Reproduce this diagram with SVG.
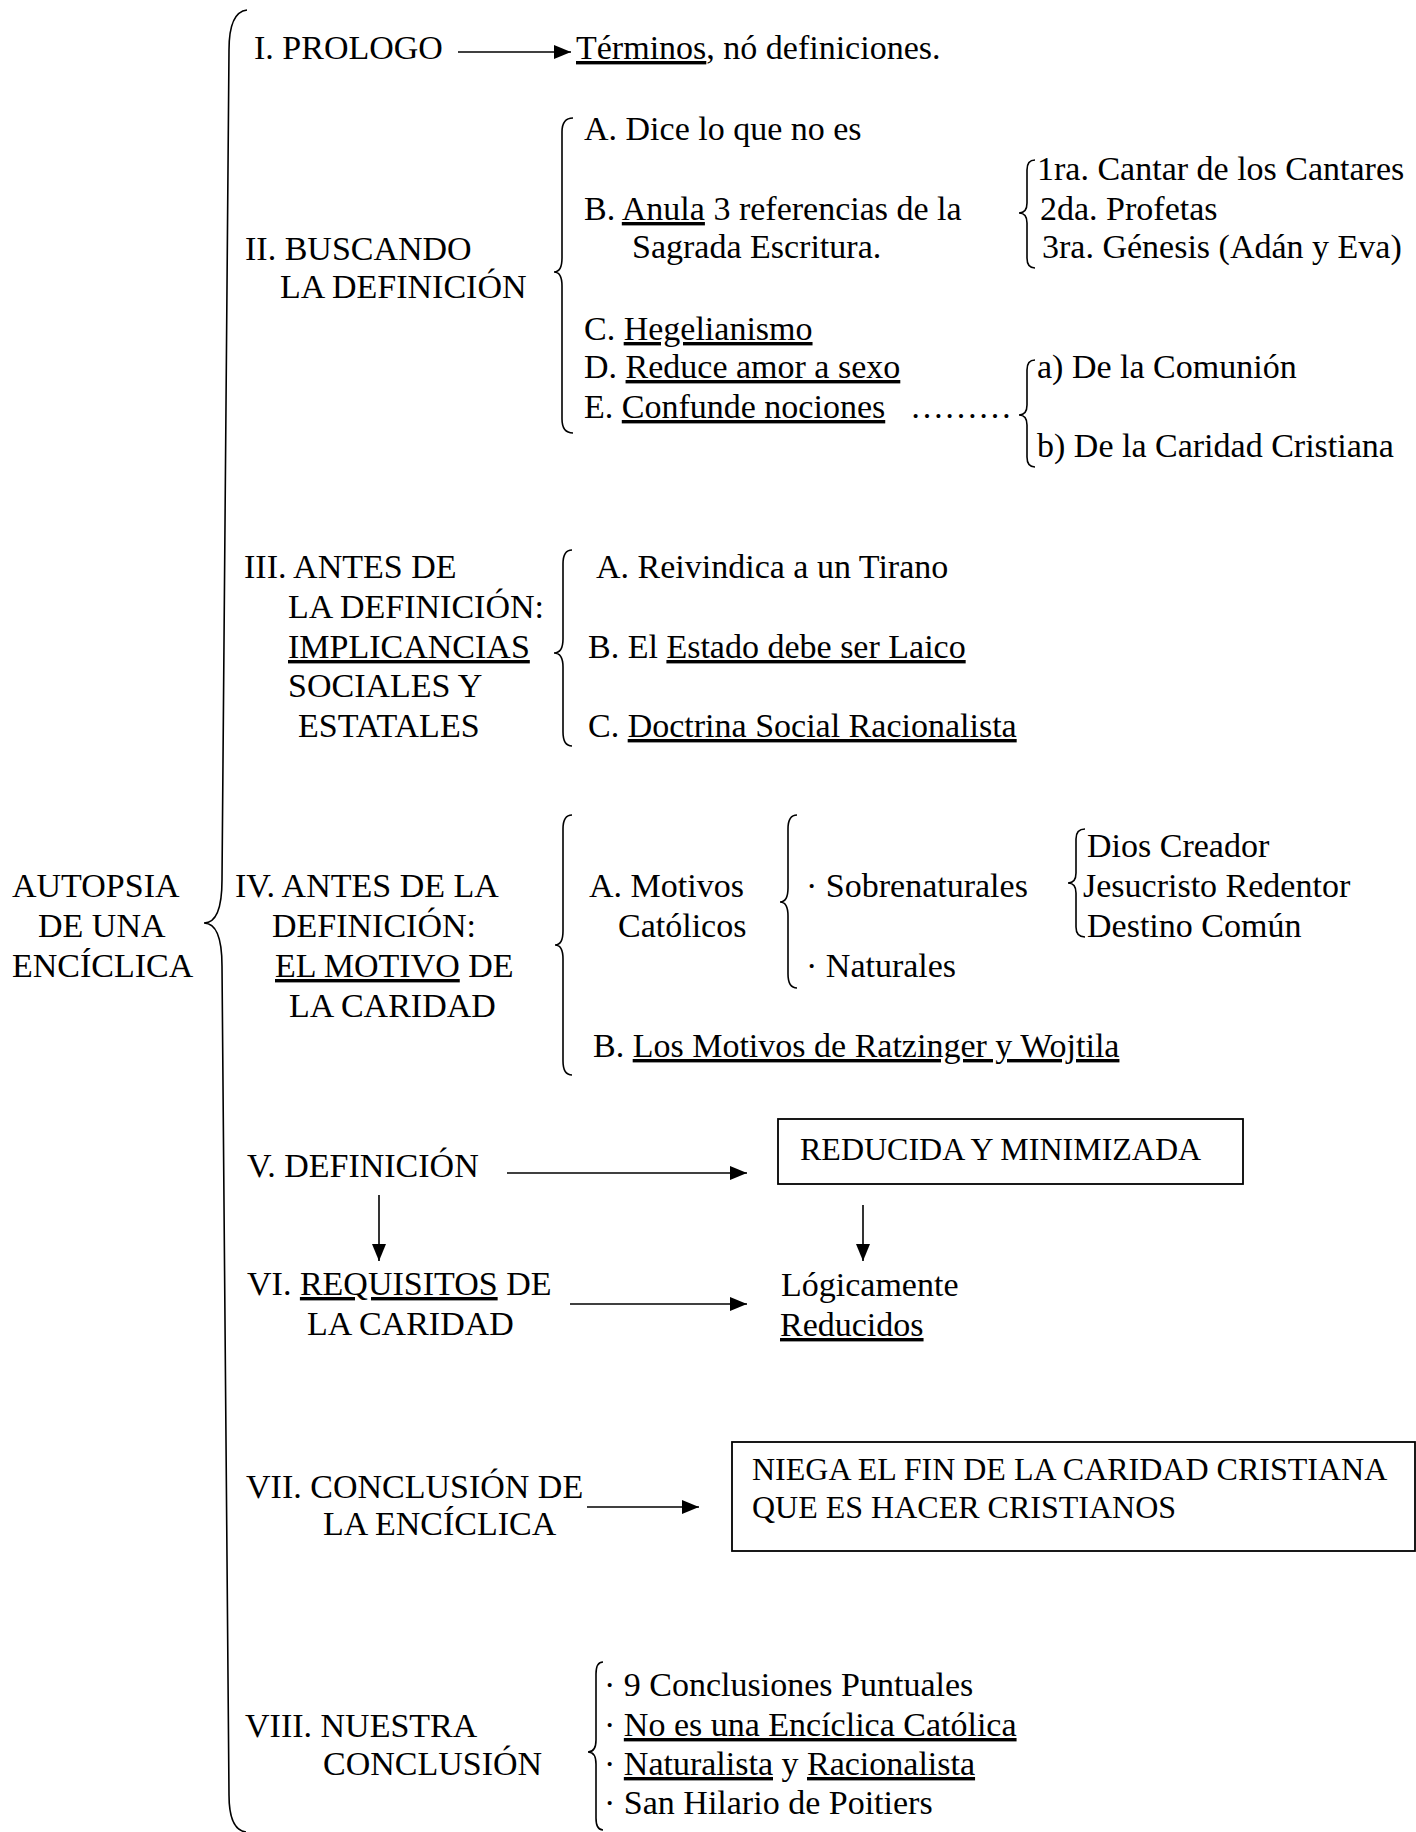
<svg xmlns="http://www.w3.org/2000/svg" width="1416" height="1832" viewBox="0 0 1416 1832">
<style>
text{font-family:"Liberation Serif","Times New Roman",serif;font-size:34px;fill:#000}
.s{font-size:32px}
.u{text-decoration:underline}
.br{fill:none;stroke:#000;stroke-width:1.6}
.ln{fill:none;stroke:#000;stroke-width:1.6}
.box{fill:#fff;stroke:#000;stroke-width:1.8}
</style>
<defs>
<marker id="ah" markerUnits="userSpaceOnUse" markerWidth="18" markerHeight="14" refX="17" refY="7" orient="auto">
<path d="M0,0 L17,7 L0,14 z" fill="#000"/>
</marker>
</defs>
<rect width="1416" height="1832" fill="#fff"/>
<g id="connectors">
<path class="br" d="M247,10 Q229,12 229,50 L222,880 Q222,923 204,923 Q222,923 222,966 L229,1795 Q229,1830 246,1832"/>
<path class="br" d="M573,118 Q562,118 562,132 L562,258 Q562,272 554,272 Q562,272 562,286 L562,419 Q562,433 573,433"/>
<path class="br" d="M1035,160 Q1027,160 1027,170 L1027,203 Q1027,213 1019,213 Q1027,213 1027,223 L1027,258 Q1027,268 1035,268"/>
<path class="br" d="M1035,360 Q1027,360 1027,370 L1027,405 Q1027,415 1019,415 Q1027,415 1027,425 L1027,457 Q1027,467 1035,467"/>
<path class="br" d="M572,550 Q563,550 563,564 L563,639 Q563,653 554,653 Q563,653 563,667 L563,732 Q563,746 572,746"/>
<path class="br" d="M572,815 Q563,815 563,829 L563,931 Q563,945 555,945 Q563,945 563,959 L563,1061 Q563,1075 572,1075"/>
<path class="br" d="M797,815 Q788,815 788,829 L788,888 Q788,902 780,902 Q788,902 788,916 L788,974 Q788,988 797,988"/>
<path class="br" d="M1085,829 Q1076,829 1076,839 L1076,873 Q1076,883 1068,883 Q1076,883 1076,893 L1076,927 Q1076,937 1085,937"/>
<path class="br" d="M603,1662 Q596,1662 596,1674 L596,1740 Q596,1752 588,1752 Q596,1752 596,1764 L596,1818 Q596,1830 603,1830"/>
<line class="ln" x1="458" y1="52" x2="571" y2="52" marker-end="url(#ah)"/>
<line class="ln" x1="507" y1="1173" x2="747" y2="1173" marker-end="url(#ah)"/>
<line class="ln" x1="379" y1="1195" x2="379" y2="1261" marker-end="url(#ah)"/>
<line class="ln" x1="863" y1="1205" x2="863" y2="1261" marker-end="url(#ah)"/>
<line class="ln" x1="570" y1="1304" x2="747" y2="1304" marker-end="url(#ah)"/>
<line class="ln" x1="587" y1="1507" x2="699" y2="1507" marker-end="url(#ah)"/>
</g>
<g id="root">
<text x="12" y="897">AUTOPSIA</text>
<text x="38" y="937">DE UNA</text>
<text x="12" y="977">ENCÍCLICA</text>
</g>
<g id="n1">
<text x="254" y="59">I. PROLOGO</text>
</g>
<g id="n1a">
<text x="576" y="59"><tspan class="u">Términos</tspan>, nó definiciones.</text>
</g>
<g id="n2">
<text x="245" y="260">II. BUSCANDO</text>
<text x="280" y="298">LA DEFINICIÓN</text>
</g>
<g id="n2items">
<text x="584" y="140">A. Dice lo que no es</text>
<text x="584" y="220">B. <tspan class="u">Anula</tspan> 3 referencias de la</text>
<text x="632" y="258">Sagrada Escritura.</text>
<text x="584" y="340">C. <tspan class="u">Hegelianismo</tspan></text>
<text x="584" y="378">D. <tspan class="u">Reduce amor a sexo</tspan></text>
<text x="584" y="418">E. <tspan class="u">Confunde nociones</tspan></text>
<text x="910" y="418">………</text>
</g>
<g id="n2refs">
<text x="1037" y="180">1ra. Cantar de los Cantares</text>
<text x="1040" y="220">2da. Profetas</text>
<text x="1042" y="258">3ra. Génesis (Adán y Eva)</text>
</g>
<g id="n2nociones">
<text x="1037" y="378">a) De la Comunión</text>
<text x="1037" y="457">b) De la Caridad Cristiana</text>
</g>
<g id="n3">
<text x="244" y="578">III. ANTES DE</text>
<text x="288" y="618">LA DEFINICIÓN:</text>
<text x="288" y="658"><tspan class="u">IMPLICANCIAS</tspan></text>
<text x="288" y="697">SOCIALES Y</text>
<text x="298" y="737">ESTATALES</text>
</g>
<g id="n3items">
<text x="596" y="578">A. Reivindica a un Tirano</text>
<text x="588" y="658">B. El <tspan class="u">Estado debe ser Laico</tspan></text>
<text x="588" y="737">C. <tspan class="u">Doctrina Social Racionalista</tspan></text>
</g>
<g id="n4">
<text x="235" y="897">IV. ANTES DE LA</text>
<text x="272" y="937">DEFINICIÓN:</text>
<text x="275" y="977"><tspan class="u">EL MOTIVO</tspan> DE</text>
<text x="289" y="1017">LA CARIDAD</text>
</g>
<g id="n4a">
<text x="589" y="897">A. Motivos</text>
<text x="618" y="937">Católicos</text>
</g>
<g id="n4motivos">
<text x="806" y="897">· Sobrenaturales</text>
<text x="806" y="977">· Naturales</text>
</g>
<g id="n4sobre">
<text x="1087" y="857">Dios Creador</text>
<text x="1083" y="897">Jesucristo Redentor</text>
<text x="1087" y="937">Destino Común</text>
</g>
<g id="n4b">
<text x="593" y="1057">B. <tspan class="u">Los Motivos de Ratzinger y Wojtila</tspan></text>
</g>
<g id="n5">
<text x="247" y="1177">V. DEFINICIÓN</text>
</g>
<g id="n5box">
<rect class="box" x="778" y="1119" width="465" height="65"/>
<text class="s" x="800" y="1160">REDUCIDA Y MINIMIZADA</text>
</g>
<g id="n6">
<text x="247" y="1295">VI. <tspan class="u">REQUISITOS</tspan> DE</text>
<text x="307" y="1335">LA CARIDAD</text>
</g>
<g id="n6res">
<text x="781" y="1296">Lógicamente</text>
<text x="780" y="1336"><tspan class="u">Reducidos</tspan></text>
</g>
<g id="n7">
<text x="246" y="1498">VII. CONCLUSIÓN DE</text>
<text x="323" y="1535">LA ENCÍCLICA</text>
</g>
<g id="n7box">
<rect class="box" x="732" y="1442" width="683" height="109"/>
<text class="s" x="752" y="1480">NIEGA EL FIN DE LA CARIDAD CRISTIANA</text>
<text class="s" x="752" y="1518">QUE ES HACER CRISTIANOS</text>
</g>
<g id="n8">
<text x="245" y="1737">VIII. NUESTRA</text>
<text x="323" y="1775">CONCLUSIÓN</text>
</g>
<g id="n8items">
<text x="604" y="1696">· 9 Conclusiones Puntuales</text>
<text x="604" y="1736">· <tspan class="u">No es una Encíclica Católica</tspan></text>
<text x="604" y="1775">· <tspan class="u">Naturalista</tspan> y <tspan class="u">Racionalista</tspan></text>
<text x="604" y="1814">· San Hilario de Poitiers</text>
</g>
</svg>
